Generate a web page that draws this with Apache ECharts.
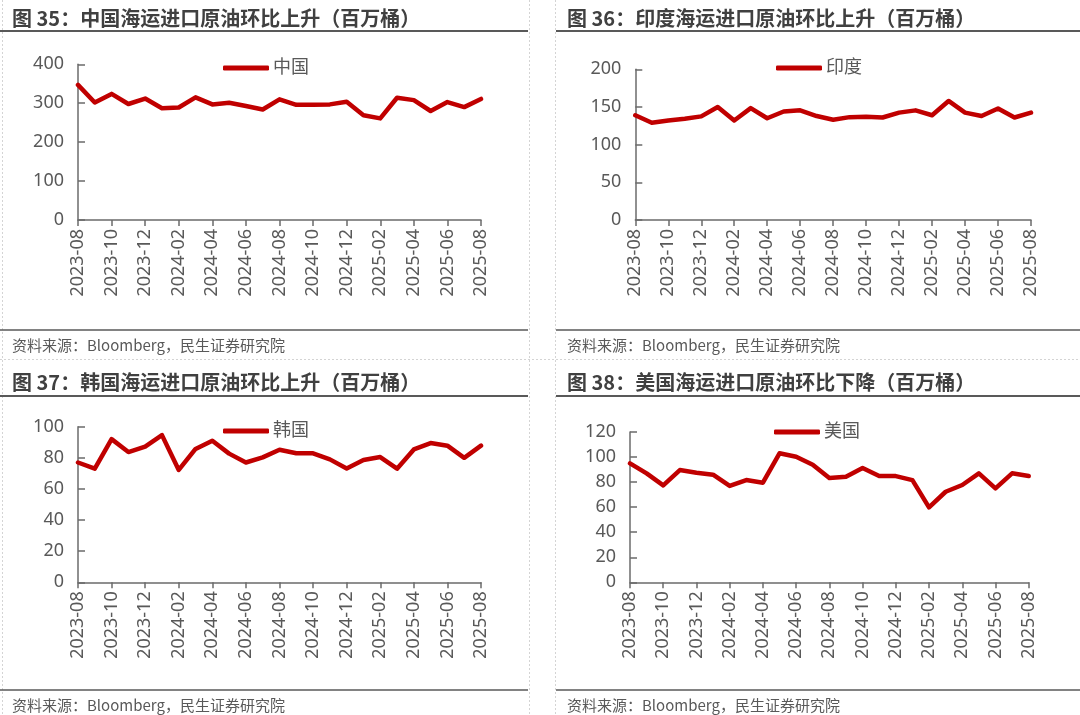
<!DOCTYPE html>
<html><head><meta charset="utf-8">
<script src="https://cdn.jsdelivr.net/npm/echarts@6/dist/echarts.min.js"></script>
<style>html,body{margin:0;padding:0;background:#fff}#c{width:1080px;height:715px}</style>
</head><body><div id="c"></div>
<script>
const months = ['2023-08','2023-09','2023-10','2023-11','2023-12','2024-01','2024-02','2024-03','2024-04','2024-05','2024-06','2024-07','2024-08','2024-09','2024-10','2024-11','2024-12','2025-01','2025-02','2025-03','2025-04','2025-05','2025-06','2025-07','2025-08'];
const chinaValues = [347,302,324,298,312,287,289,315,297,301,293,284,310,296,296,297,304,269,261,314,308,280,303,290,311];
const indiaValues = [139,129,132,134.5,137.5,150,132,148.5,135,144,145.5,138,133,136.5,137,136,142.5,145.5,139,158,142.5,138,148,136,142.5];
const koreaValues = [77,73,92,83.7,87.2,94.6,72.2,85.7,91,82.7,77,80.3,85.2,82.9,82.9,79,73.2,78.6,80.5,73,85.4,89.5,87.8,80,87.8];
const usaValues = [95,87,77.4,89.6,87.5,85.9,76.9,81.6,79.5,103,100.3,93.9,83.2,84.3,91.2,84.8,84.8,81.6,59.8,72.3,77.7,87,75,87,84.8];
const seriesNames = ['中国','印度','韩国','美国'];
const titles = ['图 35：中国海运进口原油环比上升（百万桶）','图 36：印度海运进口原油环比上升（百万桶）','图 37：韩国海运进口原油环比上升（百万桶）','图 38：美国海运进口原油环比下降（百万桶）'];
const sourceText = '资料来源：Bloomberg，民生证券研究院';
const yMax = [400,200,100,120];
const yInterval = [100,50,20,20];

const RED = '#C00000';
const AX = '#6b6b6b';
const LAB = '#595959';
const FONT = '"Noto Sans","Noto Sans CJK SC",sans-serif';

const grids = [
  {left:78, top:64.3, width:403, height:155.7},
  {left:635.3, top:69.3, width:395.7, height:150.7},
  {left:78, top:426.7, width:403, height:155.6},
  {left:630, top:432, width:398.7, height:150.3}
];
const legendPos = [
  {left:218, top:54},
  {left:771, top:54},
  {left:218, top:417},
  {left:769, top:418}
];
const dataSets = [chinaValues, indiaValues, koreaValues, usaValues];

const xAxis = [], yAxis = [], series = [], legend = [];
for (let i=0;i<4;i++){
  xAxis.push({
    type:'category', gridIndex:i, data:months, boundaryGap:false,
    axisLine:{lineStyle:{color:AX,width:1.5}},
    axisTick:{show:true, interval:1, length:6, lineStyle:{color:AX,width:1.5}},
    axisLabel:{interval:1, rotate:90, color:LAB, fontSize:18, fontFamily:FONT, margin:9},
    splitLine:{show:false}
  });
  yAxis.push({
    type:'value', gridIndex:i, min:0, max:yMax[i], interval:yInterval[i],
    axisLine:{show:true, lineStyle:{color:AX,width:1.5}},
    axisTick:{show:true, inside:true, length:7, lineStyle:{color:AX,width:1.5}},
    axisLabel:{color:LAB, fontSize:18, fontFamily:FONT, margin:14},
    splitLine:{show:false}
  });
  series.push({
    name:seriesNames[i], type:'line', xAxisIndex:i, yAxisIndex:i,
    data:dataSets[i], showSymbol:false, symbol:'none',
    lineStyle:{color:RED, width:4.5, cap:'round', join:'round'},
    itemStyle:{color:RED}
  });
  legend.push({
    data:[seriesNames[i]], left:legendPos[i].left, top:legendPos[i].top,
    icon:'roundRect', itemWidth:46, itemHeight:5, itemGap:4,
    textStyle:{color:LAB, fontSize:18, fontFamily:FONT, padding:[0,0,0,-1]}
  });
}

const graphic = [];
// dashed light borders
const dash = {stroke:'#d4d4d4', lineWidth:1, lineDash:[2,2]};
[2.5, 529.5, 555.5].forEach(x=>graphic.push({type:'line', shape:{x1:x,y1:0,x2:x,y2:715}, style:dash, silent:true}));
graphic.push({type:'line', shape:{x1:0,y1:359.5,x2:1080,y2:359.5}, style:dash, silent:true});
// panel geometry
const panels = [
  {x0:0, x1:528, tx:12, ty:18, uy:31, sy:330, st:345},
  {x0:556, x1:1080, tx:567, ty:18, uy:31, sy:330, st:345},
  {x0:0, x1:528, tx:12, ty:382, uy:396, sy:690, st:705},
  {x0:556, x1:1080, tx:567, ty:382, uy:396, sy:690, st:705}
];
panels.forEach((p,i)=>{
  graphic.push({type:'text', x:p.tx, y:p.ty, style:{text:titles[i], fill:'#404040', font:'bold 20px "Noto Sans CJK SC", sans-serif', textVerticalAlign:'middle'}});
  graphic.push({type:'line', shape:{x1:p.x0,y1:p.uy,x2:p.x1,y2:p.uy}, style:{stroke:'#595959', lineWidth:2}});
  graphic.push({type:'line', shape:{x1:p.x0,y1:p.sy,x2:p.x1,y2:p.sy}, style:{stroke:'#595959', lineWidth:1.5}});
  graphic.push({type:'text', x:p.tx, y:p.st, style:{text:sourceText, fill:'#595959', font:'15px "Noto Sans CJK SC", sans-serif', textVerticalAlign:'middle'}});
});

const chart = echarts.init(document.getElementById('c'), null, {renderer:'canvas'});
chart.setOption({
  backgroundColor:'#ffffff',
  animation:false,
  grid:grids, xAxis, yAxis, series, legend, graphic
});
</script></body></html>
